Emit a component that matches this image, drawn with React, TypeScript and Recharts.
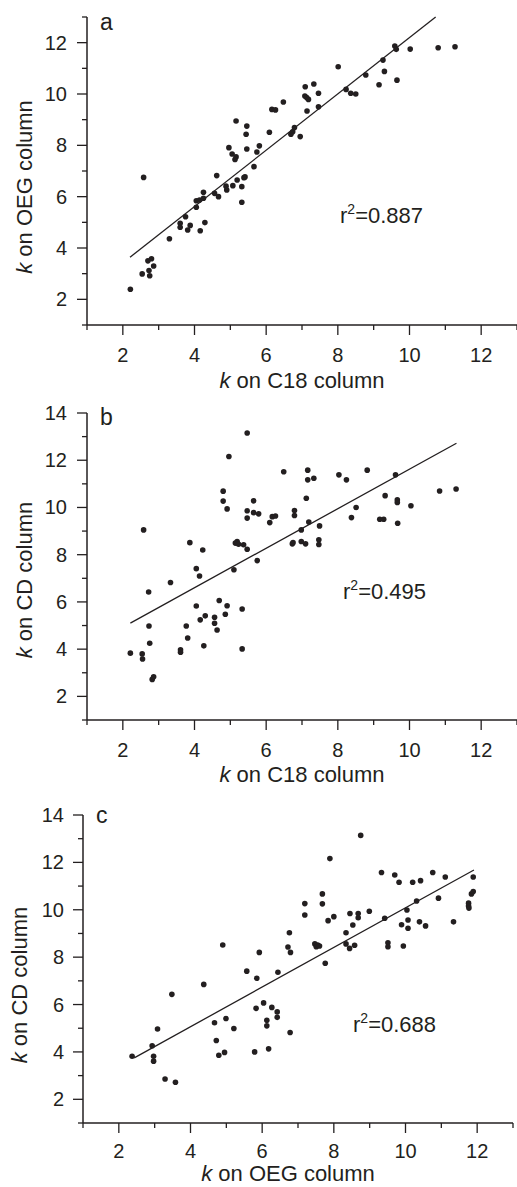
import React from "react"
import { ScatterChart, Scatter, XAxis, YAxis, ReferenceLine } from "recharts"

const FONT = "'Liberation Sans', Arial, Helvetica, sans-serif"
const INK = "#231f20"

const xTicks = [1, 2, 3, 4, 5, 6, 7, 8, 9, 10, 11, 12, 13]
const yTicksA = [1, 2, 3, 4, 5, 6, 7, 8, 9, 10, 11, 12, 13]
const yTicksBC = [1, 2, 3, 4, 5, 6, 7, 8, 9, 10, 11, 12, 13, 14]

// a: k on C18 (x) vs k on OEG (y)
const pointsA: [number, number][] = [
  [2.58, 6.75], [5.16, 8.95], [5.46, 8.75], [5.44, 8.43], [4.96, 7.91], [5.05, 7.66],
  [5.16, 7.55], [5.13, 7.45], [5.46, 7.86], [5.41, 6.77], [5.38, 6.74], [5.19, 6.65], [4.62, 6.82],
  [2.21, 2.39], [2.54, 2.99], [2.73, 3.12], [2.75, 2.92], [2.7, 3.5], [2.8, 3.58], [2.86, 3.3],
  [3.3, 4.36], [3.6, 4.96], [3.6, 4.81], [3.75, 5.22], [3.81, 4.7], [3.88, 4.88], [4.16, 4.67],
  [4.29, 4.99], [4.05, 5.59], [4.05, 5.84], [4.14, 5.87], [4.25, 5.94], [4.25, 6.17], [4.56, 6.13],
  [4.67, 6.0], [4.88, 6.41], [4.9, 6.26], [5.07, 6.43], [5.32, 6.39], [5.32, 5.78],
  [5.66, 7.17], [5.74, 7.74], [5.81, 7.98], [6.09, 8.51], [6.16, 9.4], [6.26, 9.38], [6.48, 9.69],
  [6.69, 8.43], [6.74, 8.53], [6.79, 8.69], [6.95, 8.34], [7.14, 9.34], [7.08, 9.92], [7.13, 9.86],
  [7.18, 9.79], [7.09, 10.28], [7.33, 10.39], [7.46, 10.03], [7.46, 9.5], [8.01, 11.06], [8.23, 10.18],
  [8.36, 10.03], [8.5, 10.0], [8.78, 10.74], [9.15, 10.36], [9.26, 11.32], [9.3, 10.88], [9.59, 11.87],
  [9.63, 11.74], [9.65, 10.54], [10.02, 11.75], [10.8, 11.8], [11.27, 11.84],
]

// b: k on C18 (x) vs k on CD (y)
const pointsB: [number, number][] = [
  [2.58, 9.05], [3.87, 8.51], [4.23, 8.2], [4.05, 7.41], [4.14, 7.1], [4.96, 12.16], [5.47, 13.15],
  [4.8, 10.69], [4.8, 10.27], [4.91, 9.94], [5.65, 10.28], [5.47, 9.86], [5.47, 9.55], [5.65, 9.78],
  [5.79, 9.73], [5.19, 8.56], [5.14, 8.49], [5.23, 8.44], [5.37, 8.42], [5.47, 8.23], [5.1, 7.36],
  [5.75, 7.75],
  [2.72, 6.42], [3.33, 6.82], [2.21, 3.83], [2.54, 3.8], [2.55, 3.58], [2.73, 4.98], [2.75, 4.25],
  [2.82, 2.72], [2.86, 2.83], [3.61, 3.97], [3.61, 3.87], [3.77, 4.98], [3.81, 4.47], [4.05, 5.83],
  [4.16, 5.24], [4.3, 5.41], [4.26, 4.14], [4.56, 5.35], [4.56, 5.1], [4.63, 4.81], [4.69, 6.06],
  [4.86, 5.48], [4.91, 5.84], [5.33, 5.7], [5.33, 4.01],
  [6.49, 11.51], [7.16, 11.58], [7.16, 11.17], [7.33, 11.24], [7.12, 10.39], [6.79, 9.87], [6.79, 9.66],
  [6.1, 9.36], [6.17, 9.61], [6.26, 9.64], [7.19, 9.38], [7.49, 9.22], [6.98, 9.05], [6.73, 8.46],
  [6.75, 8.51], [6.98, 8.56], [7.1, 8.46], [7.47, 8.63], [7.47, 8.43], [8.03, 11.38], [8.24, 11.17],
  [8.38, 9.57], [8.51, 10.0], [8.82, 11.58], [9.17, 9.5], [9.28, 9.5], [9.32, 10.5], [9.61, 11.38],
  [9.66, 10.32], [9.66, 10.21], [9.67, 9.33], [10.04, 10.07], [10.84, 10.7], [11.3, 10.78],
]

// c: k on OEG (x) vs k on CD (y)
const pointsC: [number, number][] = [
  [4.9, 8.51], [4.37, 6.85], [5.57, 7.41], [5.85, 7.11], [5.92, 8.2],
  [2.37, 3.82], [2.93, 4.26], [2.97, 3.82], [2.97, 3.61], [3.08, 4.97], [3.29, 2.86], [3.58, 2.72],
  [3.48, 6.43], [4.67, 5.23], [4.72, 4.48], [4.79, 3.86], [4.95, 3.98], [4.99, 5.41], [5.21, 4.99],
  [5.79, 4.0], [5.83, 5.84],
  [6.04, 6.07], [6.27, 5.88], [6.42, 5.69], [6.42, 5.46], [6.13, 5.34], [6.13, 5.1], [6.78, 4.82],
  [6.18, 4.13],
  [6.44, 7.36], [6.76, 9.03], [6.72, 8.43], [6.79, 8.2], [7.19, 10.26], [7.19, 9.78], [7.68, 10.67],
  [7.68, 10.25], [7.47, 8.56], [7.51, 8.44], [7.55, 8.51], [7.6, 8.47], [7.76, 7.74], [7.89, 12.16],
  [7.84, 9.54], [8.0, 9.71], [8.34, 9.03], [8.34, 8.56], [8.44, 8.37], [8.58, 8.5], [8.53, 9.36],
  [8.45, 9.84], [8.68, 9.84], [8.68, 9.66], [8.75, 13.14], [8.99, 9.94], [9.33, 11.57], [9.42, 9.64],
  [9.51, 8.61], [9.51, 8.44], [9.7, 11.47], [9.82, 11.16], [9.89, 9.37], [9.94, 8.47], [10.04, 9.99],
  [10.07, 9.57], [10.07, 9.22], [10.2, 11.16], [10.31, 10.37], [10.39, 9.49], [10.42, 11.23],
  [10.56, 9.32], [10.76, 11.57], [10.92, 10.49], [11.11, 11.38], [11.34, 9.49], [11.76, 10.28],
  [11.76, 10.16], [11.77, 10.07], [11.84, 10.67], [11.89, 10.77], [11.89, 11.38],
]

// regression line end points
const fitA: [number, number][] = [[2.2, 3.64], [10.73, 13.0]]
const fitB: [number, number][] = [[2.21, 5.1], [11.31, 12.72]]
const fitC: [number, number][] = [[2.43, 3.75], [11.91, 11.68]]

const makeXTick = (labelDy: number) => (p: any) => {
  const v = p.payload.value
  const major = v % 2 === 0
  return (
    <g>
      <line x1={p.x} y1={p.y} x2={p.x} y2={p.y + (major ? 10 : 5)} stroke={INK} strokeWidth={1.3} />
      {major && (
        <text x={p.x} y={p.y + labelDy} textAnchor="middle" fontSize={20} fontFamily={FONT} fill={INK}>
          {v}
        </text>
      )}
    </g>
  )
}

const makeYTick = (gap: number) => (p: any) => {
  const v = p.payload.value
  const major = v % 2 === 0
  return (
    <g>
      <line x1={p.x} y1={p.y} x2={p.x - (major ? 10 : 5)} y2={p.y} stroke={INK} strokeWidth={1.3} />
      {major && (
        <text x={p.x - gap} y={p.y + 7} textAnchor="end" fontSize={20} fontFamily={FONT} fill={INK}>
          {v}
        </text>
      )}
    </g>
  )
}

type PanelProps = {
  points: [number, number][]
  fit: [number, number][]
  yTicks: number[]
  height: number
  top: number
  right: number
  axisLeft: number
  xAxisHeight: number
  xLabelDy: number
  yLabelGap: number
  letter: string
  letterPos: [number, number]
  r2: string
  r2Pos: [number, number]
  xTitle: string
  xTitlePos: [number, number]
  yTitle: string
  yTitlePos: [number, number]
}

function Panel(props: PanelProps) {
  const data = props.points.map(([x, y]) => ({ x, y }))
  const yMax = props.yTicks[props.yTicks.length - 1]
  const [yx, yy] = props.yTitlePos
  return (
    <div style={{ position: "relative", width: 517, height: props.height }}>
      <ScatterChart
        width={517}
        height={props.height}
        margin={{ top: props.top, right: props.right, bottom: 0, left: 0 }}
      >
        <XAxis
          type="number"
          dataKey="x"
          domain={[1, 13]}
          ticks={xTicks}
          interval={0}
          tickSize={0}
          tickMargin={0}
          tickLine={false}
          tick={makeXTick(props.xLabelDy)}
          axisLine={{ stroke: INK, strokeWidth: 1.5 }}
          height={props.xAxisHeight}
          allowDataOverflow
        />
        <YAxis
          type="number"
          dataKey="y"
          domain={[1, yMax]}
          ticks={props.yTicks}
          interval={0}
          tickSize={0}
          tickMargin={0}
          tickLine={false}
          tick={makeYTick(props.yLabelGap)}
          axisLine={{ stroke: INK, strokeWidth: 1.5 }}
          width={props.axisLeft}
          allowDataOverflow
        />
        <ReferenceLine
          segment={[
            { x: props.fit[0][0], y: props.fit[0][1] },
            { x: props.fit[1][0], y: props.fit[1][1] },
          ]}
          stroke={INK}
          strokeWidth={1.3}
          ifOverflow="visible"
        />
        <Scatter
          data={data}
          isAnimationActive={false}
          shape={(p: any) => <circle cx={p.cx} cy={p.cy} r={2.8} fill={INK} />}
        />
      </ScatterChart>
      <svg
        width={517}
        height={props.height}
        style={{ position: "absolute", left: 0, top: 0, pointerEvents: "none" }}
        fontFamily={FONT}
        fill={INK}
      >
        <text x={props.letterPos[0]} y={props.letterPos[1]} fontSize={23}>
          {props.letter}
        </text>
        <text x={props.r2Pos[0]} y={props.r2Pos[1]} fontSize={22}>
          r<tspan fontSize={14} dy={-9}>2</tspan>
          <tspan dy={9}>={props.r2}</tspan>
        </text>
        <text x={props.xTitlePos[0]} y={props.xTitlePos[1]} fontSize={22} textAnchor="middle">
          <tspan fontStyle="italic">k</tspan> on {props.xTitle}
        </text>
        <text x={yx} y={yy} fontSize={22} textAnchor="middle" transform={`rotate(-90, ${yx}, ${yy})`}>
          <tspan fontStyle="italic">k</tspan> on {props.yTitle}
        </text>
      </svg>
    </div>
  )
}

export default function App() {
  return (
    <div style={{ position: "absolute", left: 0, top: 0, width: 517, height: 1187, background: "#fff" }}>
      <Panel
        points={pointsA}
        fit={fitA}
        yTicks={yTicksA}
        height={395}
        top={17}
        right={0}
        axisLeft={87}
        xAxisHeight={70}
        xLabelDy={37}
        yLabelGap={20}
        letter="a"
        letterPos={[100, 30]}
        r2="0.887"
        r2Pos={[340, 223]}
        xTitle="C18 column"
        xTitlePos={[302, 388]}
        yTitle="OEG column"
        yTitlePos={[32, 187]}
      />
      <Panel
        points={pointsB}
        fit={fitB}
        yTicks={yTicksBC}
        height={395}
        top={18}
        right={0}
        axisLeft={87}
        xAxisHeight={70}
        xLabelDy={37}
        yLabelGap={20}
        letter="b"
        letterPos={[100, 30]}
        r2="0.495"
        r2Pos={[343, 204]}
        xTitle="C18 column"
        xTitlePos={[302, 387]}
        yTitle="CD column"
        yTitlePos={[32, 185]}
      />
      <Panel
        points={pointsC}
        fit={fitC}
        yTicks={yTicksBC}
        height={397}
        top={25}
        right={4}
        axisLeft={83}
        xAxisHeight={64}
        xLabelDy={35}
        yLabelGap={19}
        letter="c"
        letterPos={[96, 33]}
        r2="0.688"
        r2Pos={[353, 242]}
        xTitle="OEG column"
        xTitlePos={[288, 391]}
        yTitle="CD column"
        yTitlePos={[27, 195]}
      />
    </div>
  )
}
